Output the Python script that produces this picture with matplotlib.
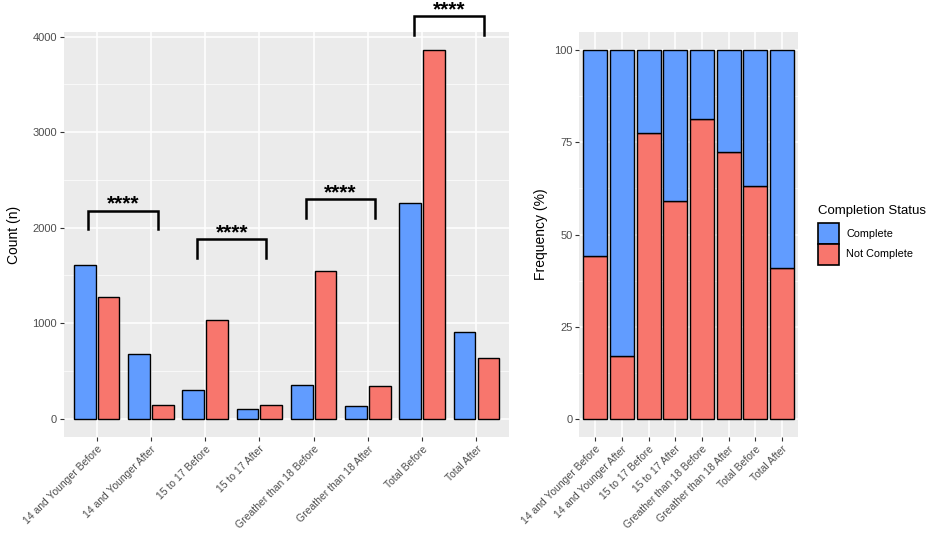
import numpy as np
import matplotlib.pyplot as plt
from matplotlib.patches import Patch

categories = ["14 and Younger Before", "14 and Younger After", "15 to 17 Before",
              "15 to 17 After", "Greather than 18 Before", "Greather than 18 After",
              "Total Before", "Total After"]
complete = [1606, 672, 300, 101, 355, 132, 2261, 909]
not_complete = [1275, 139, 1038, 146, 1544, 345, 3857, 631]

# significance brackets: (left category index, right category index, bar height)
brackets = [(0, 1, 2180), (2, 3, 1880), (4, 5, 2300), (6, 7, 4215)]
sig_label = "****"

blue = "#619CFF"
red = "#F8766D"
bg = "#EBEBEB"
plt.rcParams["font.family"] = ["Liberation Sans", "DejaVu Sans"]

fig = plt.figure(figsize=(9.32, 5.33), dpi=100)
ax1 = fig.add_axes([0.0687, 0.180, 0.4775, 0.760])
ax2 = fig.add_axes([0.6216, 0.180, 0.2347, 0.760])

x = np.arange(1, len(categories) + 1)


def style(ax):
    ax.set_facecolor(bg)
    for s in ax.spines.values():
        s.set_visible(False)
    ax.grid(True, which="major", color="white", linewidth=1.1)
    ax.grid(True, which="minor", axis="y", color="white", linewidth=0.5)
    ax.set_axisbelow(True)
    ax.tick_params(axis="both", which="major", length=3, width=0.8, color="#333333",
                   labelsize=8, labelcolor="#4D4D4D", pad=2)
    ax.tick_params(axis="x", labelsize=7.5)
    ax.tick_params(axis="both", which="minor", length=0)
    ax.set_xticks(x)
    ax.set_xticklabels(categories, rotation=45, ha="right", rotation_mode="anchor")
    ax.set_xlim(0.4, len(categories) + 0.6)


# left: dodged counts
style(ax1)
ax1.bar(x - 0.22, complete, width=0.40, color=blue, edgecolor="black", linewidth=1)
ax1.bar(x + 0.22, not_complete, width=0.40, color=red, edgecolor="black", linewidth=1)
ax1.set_ylim(-193, 4050)
ax1.set_yticks([0, 1000, 2000, 3000, 4000])
ax1.set_yticks([500, 1500, 2500, 3500], minor=True)
ax1.set_ylabel("Count (n)", fontsize=10, labelpad=8)

for i, j, h in brackets:
    xl, xr = x[i] - 0.15, x[j] + 0.13
    ax1.plot([xl, xl, xr, xr], [h - 195, h, h, h - 195], color="black", lw=1.8,
             clip_on=False, solid_joinstyle="miter")
    ax1.text((xl + xr) / 2, h + 10, sig_label, ha="center", va="baseline",
             fontsize=15, fontweight="bold", clip_on=False)

# right: stacked percentages
style(ax2)
tot = np.array(complete) + np.array(not_complete)
pct_nc = np.array(not_complete) / tot * 100
pct_c = np.array(complete) / tot * 100
ax2.bar(x, pct_nc, width=0.9, color=red, edgecolor="black", linewidth=1)
ax2.bar(x, pct_c, bottom=pct_nc, width=0.9, color=blue, edgecolor="black", linewidth=1)
ax2.set_ylim(-5, 105)
ax2.set_yticks([0, 25, 50, 75, 100])
ax2.set_yticks([12.5, 37.5, 62.5, 87.5], minor=True)
ax2.set_ylabel("Frequency (%)", fontsize=10, labelpad=4)

handles = [Patch(facecolor=blue, edgecolor="black", linewidth=1.2, label="Complete"),
           Patch(facecolor=red, edgecolor="black", linewidth=1.2, label="Not Complete")]
leg = fig.legend(handles=handles, title="Completion Status", loc="upper left",
                 bbox_to_anchor=(0.878, 0.615), frameon=False, fontsize=7.8,
                 title_fontsize=9.5, handlelength=1.9, handleheight=2.6,
                 handletextpad=0.7, labelspacing=0.0, borderaxespad=0, borderpad=0)
leg._legend_box.align = "left"
leg._legend_box.sep = 4

fig.savefig("out.png", dpi=100)
